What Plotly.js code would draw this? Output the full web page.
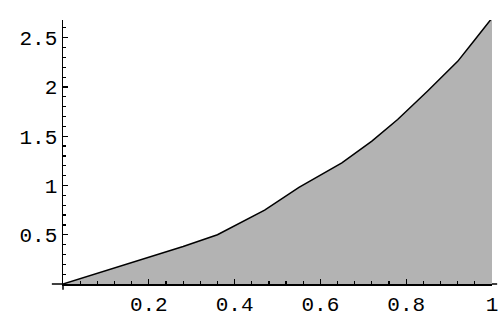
<!DOCTYPE html>
<html>
<head>
<meta charset="utf-8">
<script src="https://cdn.plot.ly/plotly-3.0.1.min.js"></script>
<style>html,body{margin:0;padding:0;background:#fff;}#chart{width:502px;height:320px;}</style>
</head>
<body>
<div id="chart"></div>
<script>
// Values
const xValues = [0, 0.08, 0.2, 0.28, 0.36, 0.4, 0.47, 0.55, 0.65, 0.72, 0.78, 0.85, 0.92, 0.96, 1.0];
const yValues = [0, 0.11, 0.27, 0.38, 0.50, 0.59, 0.75, 0.98, 1.23, 1.45, 1.67, 1.96, 2.26, 2.48, 2.70];
const xTickVals = [0.2, 0.4, 0.6, 0.8, 1];
const xTickText = ["0.2", "0.4", "0.6", "0.8", "1"];
const yTickVals = [0.5, 1, 1.5, 2, 2.5];
const yTickText = ["0.5", "1", "1.5", "2", "2.5"];

const tickFont = {family: 'Liberation Mono, DejaVu Sans Mono, monospace', size: 21, color: '#000'};
Plotly.newPlot('chart', [{
  x: xValues, y: yValues, type: 'scatter', mode: 'lines',
  fill: 'tozeroy', fillcolor: '#b3b3b3', line: {color: '#000', width: 1.5}, hoverinfo: 'skip'
}], {
  width: 502, height: 320, margin: {l: 63, r: 10, t: 20, b: 36},
  paper_bgcolor: '#fff', plot_bgcolor: '#fff',
  showlegend: false,
  xaxis: {range: [0, 1], showgrid: false, zeroline: false, showline: true, linecolor: '#000', linewidth: 1.5,
    ticks: 'inside', ticklen: 5, tickcolor: '#000', tickwidth: 1.2,
    tickmode: 'array', tickvals: xTickVals, ticktext: xTickText, tickfont: tickFont,
    minor: {ticks: 'inside', ticklen: 3, dtick: 0.04, tick0: 0, tickcolor: '#000', tickwidth: 1.2}},
  yaxis: {range: [0, 2.68], showgrid: false, zeroline: false, showline: true, linecolor: '#000', linewidth: 1.5,
    ticks: 'inside', ticklen: 5, tickcolor: '#000', tickwidth: 1.2,
    tickmode: 'array', tickvals: yTickVals, ticktext: yTickText, tickfont: tickFont,
    minor: {ticks: 'inside', ticklen: 3, dtick: 0.1, tick0: 0, tickcolor: '#000', tickwidth: 1.2}},
  shapes: [
    {type: 'line', xref: 'paper', yref: 'paper', x0: -0.026, x1: 0, y0: 0, y1: 0, line: {color: '#000', width: 1.5}},
    {type: 'line', xref: 'paper', yref: 'paper', x0: 1, x1: 1.012, y0: 0, y1: 0, line: {color: '#000', width: 1.5}},
    {type: 'line', xref: 'paper', yref: 'paper', x0: 0, x1: 0, y0: 0, y1: -0.022, line: {color: '#000', width: 1.5}}
  ]
}, {displayModeBar: false, staticPlot: true});
</script>
</body>
</html>
